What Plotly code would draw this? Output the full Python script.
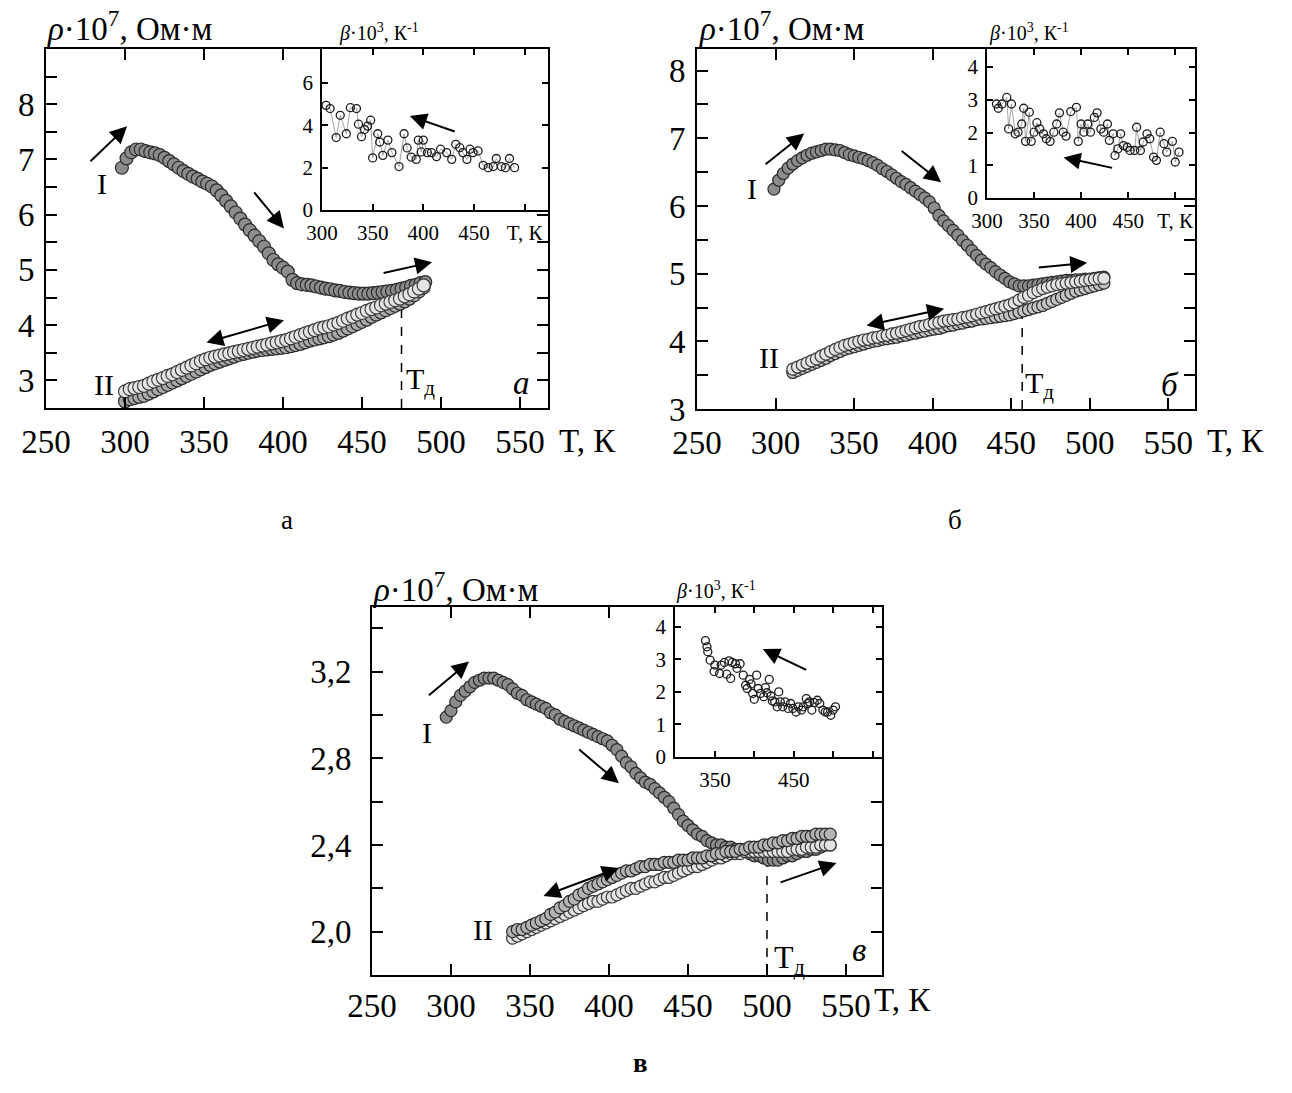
import plotly.graph_objects as go

W, H = 1292, 1093
FONT = "Liberation Serif, Times New Roman, serif"

# ---------------- data: panel а ----------------
T_a_I = list(range(298, 491, 3))
rho_a_I = [6.85, 7.02, 7.13, 7.18, 7.18, 7.15, 7.13, 7.11, 7.08, 7.03,
           6.97, 6.91, 6.85, 6.79, 6.74, 6.69, 6.65, 6.60, 6.56, 6.51,
           6.44, 6.35, 6.25, 6.15, 6.04, 5.93, 5.82, 5.72, 5.62, 5.52,
           5.42, 5.30, 5.18, 5.10, 5.04, 4.97, 4.82, 4.76, 4.74, 4.73,
           4.72, 4.70, 4.68, 4.66, 4.65, 4.63, 4.62, 4.60, 4.59, 4.58,
           4.57, 4.57, 4.57, 4.58, 4.59, 4.60, 4.61, 4.62, 4.64, 4.66,
           4.68, 4.71, 4.73, 4.76, 4.78]
T_a_II = list(range(300, 490, 3))
rho_a_II_up = [2.80, 2.84, 2.86, 2.88, 2.90, 2.94, 2.98, 3.01, 3.04, 3.08,
               3.11, 3.15, 3.19, 3.23, 3.27, 3.31, 3.35, 3.38, 3.41, 3.43,
               3.45, 3.47, 3.49, 3.51, 3.53, 3.55, 3.57, 3.59, 3.61, 3.63,
               3.65, 3.67, 3.69, 3.71, 3.73, 3.76, 3.79, 3.82, 3.85, 3.88,
               3.91, 3.94, 3.96, 3.98, 4.01, 4.04, 4.08, 4.12, 4.15, 4.19,
               4.22, 4.26, 4.29, 4.32, 4.36, 4.39, 4.42, 4.45, 4.48, 4.52,
               4.56, 4.61, 4.66, 4.72]
rho_a_II_dn = [2.62, 2.66, 2.68, 2.70, 2.72, 2.76, 2.80, 2.84, 2.88, 2.92,
               2.96, 3.00, 3.04, 3.08, 3.12, 3.16, 3.20, 3.24, 3.28, 3.31,
               3.34, 3.37, 3.40, 3.43, 3.46, 3.48, 3.50, 3.52, 3.54, 3.55,
               3.56, 3.57, 3.58, 3.59, 3.60, 3.62, 3.64, 3.66, 3.69, 3.72,
               3.74, 3.76, 3.78, 3.80, 3.83, 3.86, 3.90, 3.94, 3.98, 4.02,
               4.06, 4.10, 4.15, 4.19, 4.23, 4.27, 4.31, 4.35, 4.39, 4.43,
               4.48, 4.54, 4.61, 4.68]
T_a_beta = [304, 308, 314, 318, 324, 328, 334, 336, 339, 342, 345, 348, 350, 355, 357,
            360, 365, 369, 376, 381, 384, 388, 393, 395, 398, 400, 404, 408, 413, 417,
            423, 428, 432, 436, 439, 443, 446, 449, 454, 459, 464, 469, 472, 477, 481,
            485, 490]
beta_a = [4.94, 4.79, 3.42, 4.47, 3.60, 4.83, 4.79, 4.05, 3.46, 3.80, 3.96, 4.24, 2.46, 3.60, 3.21,
          2.58, 3.30, 2.71, 2.05, 3.60, 2.93, 2.50, 2.39, 3.30, 2.74, 3.30, 2.71, 2.71, 2.52, 2.87,
          2.71, 2.39, 3.10, 2.94, 2.71, 2.39, 2.87, 2.71, 2.79, 2.11, 2.00, 2.05, 2.43, 2.05, 2.00,
          2.43, 2.00]

# ---------------- data: panel б ----------------
T_b_I = list(range(299, 510, 3))
rho_b_I = [6.25, 6.38, 6.48, 6.56, 6.62, 6.67, 6.71, 6.75, 6.78, 6.80,
           6.82, 6.84, 6.84, 6.83, 6.82, 6.79, 6.76, 6.74, 6.72, 6.70,
           6.67, 6.64, 6.60, 6.55, 6.51, 6.46, 6.41, 6.36, 6.32, 6.27,
           6.22, 6.17, 6.12, 6.06, 5.97, 5.86, 5.78, 5.71, 5.64, 5.57,
           5.49, 5.42, 5.34, 5.27, 5.20, 5.14, 5.09, 5.03, 4.98, 4.93,
           4.88, 4.85, 4.82, 4.82, 4.82, 4.83, 4.84, 4.85, 4.86, 4.87,
           4.88, 4.89, 4.90, 4.90, 4.91, 4.91, 4.92, 4.92, 4.93, 4.94,
           4.95]
T_b_II = list(range(311, 510, 3))
rho_b_II_up = [3.59, 3.62, 3.65, 3.68, 3.71, 3.74, 3.78, 3.81, 3.85, 3.88,
               3.91, 3.94, 3.96, 3.98, 4.00, 4.02, 4.03, 4.05, 4.06, 4.08,
               4.09, 4.11, 4.12, 4.14, 4.16, 4.18, 4.20, 4.22, 4.23, 4.25,
               4.27, 4.28, 4.30, 4.31, 4.32, 4.33, 4.35, 4.36, 4.38, 4.40,
               4.42, 4.44, 4.46, 4.48, 4.50, 4.52, 4.54, 4.57, 4.61, 4.65,
               4.68, 4.72, 4.75, 4.78, 4.80, 4.82, 4.84, 4.85, 4.86, 4.87,
               4.88, 4.89, 4.90, 4.91, 4.92, 4.93, 4.93]
rho_b_II_dn = [3.54, 3.57, 3.60, 3.63, 3.66, 3.69, 3.72, 3.75, 3.79, 3.82,
               3.85, 3.88, 3.90, 3.92, 3.94, 3.96, 3.98, 4.00, 4.01, 4.03,
               4.04, 4.05, 4.06, 4.08, 4.09, 4.11, 4.12, 4.14, 4.15, 4.17,
               4.18, 4.19, 4.21, 4.23, 4.24, 4.26, 4.27, 4.29, 4.30, 4.32,
               4.33, 4.34, 4.35, 4.36, 4.37, 4.38, 4.39, 4.41, 4.43, 4.45,
               4.47, 4.49, 4.51, 4.53, 4.56, 4.59, 4.62, 4.65, 4.68, 4.71,
               4.74, 4.76, 4.78, 4.80, 4.82, 4.84, 4.86]
T_b_beta = [310, 312, 316, 321, 323, 326, 330, 333, 337, 339, 341, 345, 347, 350, 353,
            356, 360, 363, 367, 371, 374, 377, 381, 384, 389, 395, 397, 400, 403, 407,
            410, 414, 417, 421, 424, 428, 430, 434, 436, 439, 442, 445, 449, 452, 457,
            459, 463, 466, 470, 473, 477, 480, 484, 488, 491, 497, 500, 504]
beta_b = [2.87, 2.74, 2.87, 3.07, 2.11, 2.87, 1.96, 2.01, 2.26, 2.74, 1.73, 2.62, 1.73, 2.01, 2.30,
          2.11, 1.96, 1.81, 1.73, 2.01, 2.26, 2.60, 2.01, 1.89, 2.64, 2.77, 1.73, 2.26, 2.01, 2.26,
          2.01, 2.46, 2.60, 2.11, 2.01, 2.26, 1.76, 1.96, 1.30, 1.50, 1.96, 1.60, 1.55, 1.45, 1.45,
          2.16, 1.45, 1.71, 1.96, 1.81, 1.25, 1.15, 2.01, 1.66, 1.40, 1.73, 1.10, 1.40]

# ---------------- data: panel в ----------------
T_c_I = list(range(297, 541, 3))
rho_c_I = [2.99, 3.02, 3.06, 3.09, 3.11, 3.13, 3.15, 3.16, 3.17, 3.17,
           3.17, 3.16, 3.15, 3.14, 3.12, 3.10, 3.09, 3.07, 3.06, 3.05,
           3.04, 3.03, 3.01, 3.00, 2.98, 2.97, 2.96, 2.95, 2.94, 2.93,
           2.92, 2.91, 2.90, 2.89, 2.88, 2.86, 2.84, 2.81, 2.78, 2.76,
           2.73, 2.71, 2.69, 2.68, 2.66, 2.64, 2.62, 2.60, 2.57, 2.54,
           2.51, 2.49, 2.47, 2.45, 2.44, 2.42, 2.41, 2.40, 2.40, 2.39,
           2.39, 2.38, 2.38, 2.37, 2.36, 2.35, 2.35, 2.34, 2.33, 2.33,
           2.33, 2.34, 2.35, 2.35, 2.36, 2.37, 2.37, 2.38, 2.38, 2.39,
           2.40, 2.40]
T_c_II = list(range(339, 541, 3))
rho_c_II_up = [2.00, 2.01, 2.01, 2.02, 2.03, 2.04, 2.05, 2.06, 2.08, 2.09,
               2.11, 2.12, 2.14, 2.15, 2.17, 2.18, 2.20, 2.21, 2.22, 2.23,
               2.24, 2.25, 2.26, 2.27, 2.28, 2.28, 2.29, 2.30, 2.30, 2.31,
               2.31, 2.31, 2.32, 2.32, 2.32, 2.33, 2.33, 2.33, 2.34, 2.34,
               2.34, 2.35, 2.35, 2.36, 2.36, 2.37, 2.37, 2.37, 2.38, 2.38,
               2.39, 2.39, 2.39, 2.40, 2.40, 2.41, 2.41, 2.42, 2.42, 2.43,
               2.43, 2.44, 2.44, 2.44, 2.45, 2.45, 2.45, 2.45]
rho_c_II_dn = [1.97, 1.98, 1.99, 2.00, 2.01, 2.02, 2.03, 2.04, 2.05, 2.06,
               2.07, 2.08, 2.09, 2.10, 2.11, 2.12, 2.13, 2.14, 2.14, 2.15,
               2.16, 2.16, 2.17, 2.18, 2.19, 2.20, 2.20, 2.21, 2.22, 2.23,
               2.23, 2.24, 2.25, 2.25, 2.26, 2.27, 2.28, 2.29, 2.30, 2.30,
               2.31, 2.32, 2.33, 2.34, 2.34, 2.35, 2.36, 2.36, 2.36, 2.37,
               2.37, 2.37, 2.37, 2.37, 2.37, 2.37, 2.37, 2.37, 2.37, 2.38,
               2.38, 2.38, 2.39, 2.39, 2.39, 2.40, 2.40, 2.40]
T_c_beta = [338, 340, 341, 344, 349, 350, 356, 358, 362, 365, 368, 370, 372, 376, 378,
            382, 386, 389, 391, 394, 396, 398, 400, 403, 405, 408, 412, 414, 416, 419,
            421, 423, 426, 429, 431, 433, 436, 439, 443, 446, 449, 453, 456, 460, 462,
            466, 468, 470, 473, 476, 480, 483, 487, 490, 493, 497, 500, 503]
beta_c = [3.57, 3.38, 3.23, 2.97, 2.62, 2.82, 2.56, 2.82, 2.90, 2.54, 2.95, 2.41, 2.90, 2.86, 2.72,
          2.86, 2.51, 2.20, 2.10, 2.38, 2.24, 1.95, 1.77, 2.51, 2.10, 1.95, 1.85, 2.13, 1.97, 2.38,
          1.87, 1.72, 1.69, 1.54, 2.00, 1.69, 1.54, 1.69, 1.49, 1.64, 1.49, 1.38, 1.54, 1.44, 1.54,
          1.79, 1.64, 1.69, 1.44, 1.67, 1.74, 1.64, 1.44, 1.38, 1.38, 1.28, 1.44, 1.54]

T_D = {"a": 475, "b": 457, "c": 500}

fig = go.Figure()


def add_series(xa, ya, T, vals, fill, size, edge="#2a2a2a"):
    n = min(len(T), len(vals))
    fig.add_trace(go.Scatter(
        x=T[:n], y=vals[:n], mode="markers", xaxis=xa, yaxis=ya,
        marker=dict(size=size, color=fill, line=dict(color=edge, width=1.2)),
        showlegend=False, hoverinfo="skip"))


def add_inset(xa, ya, T, vals, lines):
    n = min(len(T), len(vals))
    fig.add_trace(go.Scatter(
        x=T[:n], y=vals[:n], mode="lines+markers" if lines else "markers",
        xaxis=xa, yaxis=ya,
        line=dict(color="#8c8c8c", width=0.8),
        marker=dict(size=8, symbol="circle-open", color="#1e1e1e", line=dict(width=1.3)),
        showlegend=False, hoverinfo="skip"))


# panel а
add_series("x", "y", T_a_I, rho_a_I, "#8c8c8c", 13)
add_series("x", "y", T_a_II, rho_a_II_dn, "#a9a9a9", 13)
add_series("x", "y", T_a_II, rho_a_II_up, "#e4e4e4", 13, "#3a3a3a")
add_inset("x2", "y2", T_a_beta, beta_a, True)
# panel б
add_series("x3", "y3", T_b_I, rho_b_I, "#8c8c8c", 12)
add_series("x3", "y3", T_b_II, rho_b_II_dn, "#c4c4c4", 12)
add_series("x3", "y3", T_b_II, rho_b_II_up, "#e2e2e2", 12, "#3a3a3a")
add_inset("x4", "y4", T_b_beta, beta_b, True)
# panel в
add_series("x5", "y5", T_c_I, rho_c_I, "#8c8c8c", 12)
add_series("x5", "y5", T_c_II, rho_c_II_dn, "#e2e2e2", 12, "#3a3a3a")
add_series("x5", "y5", T_c_II, rho_c_II_up, "#b4b4b4", 12)
add_inset("x6", "y6", T_c_beta, beta_c, False)


def dom_x(a, b):
    return [a / W, b / W]


def dom_y(top, bottom):
    return [1 - bottom / H, 1 - top / H]


def ax(lw, tl, fs, minor_vals=None, **kw):
    d = dict(showline=True, linecolor="black", linewidth=lw, mirror="allticks",
             ticks="inside", ticklen=tl, tickwidth=lw, tickcolor="black",
             showgrid=False, zeroline=False, automargin=False,
             tickfont=dict(family=FONT, size=fs, color="black"))
    if minor_vals is not None:
        d["minor"] = dict(tickvals=minor_vals, ticks="inside", ticklen=tl,
                          tickwidth=lw, tickcolor="black", showgrid=False)
    d.update(kw)
    return d


main_x_ticks = [250, 300, 350, 400, 450, 500, 550]

MAIN_FS = 33
INS_FS = 21

fig.update_layout(
    width=W, height=H, margin=dict(l=0, r=0, t=0, b=0, autoexpand=False),
    paper_bgcolor="white", plot_bgcolor="white",
    font=dict(family=FONT, color="black"),
    # panel а
    xaxis=ax(2, 11, MAIN_FS, domain=dom_x(46, 548), range=[250, 567.7], anchor="y",
             tickvals=main_x_ticks, ticklabelstandoff=3),
    yaxis=ax(2, 11, MAIN_FS, minor_vals=[2.5, 3.5, 4.5, 5.5, 6.5, 7.5, 8.5],
             domain=dom_y(49, 408), range=[2.5, 9.0], anchor="x",
             tickvals=[3, 4, 5, 6, 7, 8], ticklabelstandoff=3),
    xaxis2=ax(1.5, 6, INS_FS, domain=dom_x(322, 548), range=[300, 523], anchor="y2",
              tickvals=[300, 350, 400, 450, 500],
              ticktext=["300", "350", "400", "450", "T, К"], ticklabelstandoff=3),
    yaxis2=ax(1.5, 6, INS_FS, domain=dom_y(49, 210), range=[0, 7.6], anchor="x2",
              tickvals=[0, 2, 4, 6], ticklabelstandoff=3),
    # panel б
    xaxis3=ax(2, 11, MAIN_FS, domain=dom_x(697, 1195), range=[250, 567], anchor="y3",
              tickvals=main_x_ticks, ticklabelstandoff=3),
    yaxis3=ax(2, 11, MAIN_FS, minor_vals=[3.5, 4.5, 5.5, 6.5, 7.5],
              domain=dom_y(49, 409), range=[3.0, 8.32], anchor="x3",
              tickvals=[3, 4, 5, 6, 7, 8], ticklabelstandoff=3),
    xaxis4=ax(1.5, 6, INS_FS, domain=dom_x(987, 1195), range=[300, 521], anchor="y4",
              tickvals=[300, 350, 400, 450, 500],
              ticktext=["300", "350", "400", "450", "T, К"], ticklabelstandoff=3),
    yaxis4=ax(1.5, 6, INS_FS, domain=dom_y(49, 198), range=[0, 4.55], anchor="x4",
              tickvals=[0, 1, 2, 3, 4], ticklabelstandoff=3),
    # panel в
    xaxis5=ax(2, 11, MAIN_FS, domain=dom_x(372, 882), range=[250, 572.8], anchor="y5",
              tickvals=main_x_ticks, ticklabelstandoff=0),
    yaxis5=ax(2, 11, MAIN_FS, minor_vals=[2.2, 2.6, 3.0, 3.4],
              domain=dom_y(607, 975), range=[1.8, 3.498], anchor="x5",
              tickvals=[2.0, 2.4, 2.8, 3.2], ticktext=["2,0", "2,4", "2,8", "3,2"],
              ticklabelstandoff=12),
    xaxis6=ax(1.5, 6, INS_FS, minor_vals=[400, 500, 550],
              domain=dom_x(675, 882), range=[299.4, 562], anchor="y6",
              tickvals=[350, 450], ticklabelstandoff=3),
    yaxis6=ax(1.5, 6, INS_FS, domain=dom_y(607, 757), range=[0, 4.6], anchor="x6",
              tickvals=[0, 1, 2, 3, 4], ticklabelstandoff=3),
)

# dashed T_д lines
for xr, yr, t, y0, y1 in [("x", "y", T_D["a"], 2.5, 4.5),
                          ("x3", "y3", T_D["b"], 3.0, 4.45),
                          ("x5", "y5", T_D["c"], 1.8, 2.33)]:
    fig.add_shape(type="line", xref=xr, yref=yr, x0=t, x1=t, y0=y0, y1=y1,
                  line=dict(color="black", width=1.5, dash="dash"), layer="below")

ann = []


def txt(x, y, s, size, xref="paper", yref="paper", xanchor="center", yanchor="middle"):
    ann.append(dict(x=x, y=y, xref=xref, yref=yref, text=s, showarrow=False,
                    xanchor=xanchor, yanchor=yanchor,
                    font=dict(family=FONT, size=size, color="black")))


def arrow(xr, yr, tail, head, both=False):
    ann.append(dict(x=head[0], y=head[1], ax=tail[0], ay=tail[1], xref=xr, yref=yr,
                    axref=xr, ayref=yr, text="", showarrow=True, arrowhead=2,
                    arrowsize=1.7, arrowwidth=2, arrowcolor="black",
                    arrowside="end+start" if both else "end", standoff=0, startstandoff=0))


RHO = "<i>ρ</i>·10<sup>7</sup>, Ом·м"
BETA = "<i>β</i>·10<sup>3</sup>, К<sup>-1</sup>"
TD = "T<sub>д</sub>"

# titles
txt(45 / W, 1 - 26 / H, RHO, 33, xanchor="left")
txt(697 / W, 1 - 26 / H, RHO, 33, xanchor="left")
txt(371 / W, 1 - 587 / H, RHO, 33, xanchor="left")
txt(337 / W, 1 - 32 / H, BETA, 20, xanchor="left")
txt(987 / W, 1 - 32 / H, BETA, 20, xanchor="left")
txt(674 / W, 1 - 590 / H, BETA, 20, xanchor="left")
# x-axis titles of main plots
txt(557 / W, 1 - 441 / H, "T, К", MAIN_FS, xanchor="left")
txt(1205 / W, 1 - 441 / H, "T, К", MAIN_FS, xanchor="left")
txt(872 / W, 1 - 1000 / H, "T, К", MAIN_FS, xanchor="left")
# inset в x title
txt(533, -0.55, "T, К", INS_FS, xref="x6", yref="y6")
# curve labels
txt(285.4, 6.56, "I", 30, "x", "y")
txt(286.7, 2.92, "II", 30, "x", "y")
txt(476.5, 2.99, TD, 30, "x", "y", xanchor="left")
txt(551, 2.95, "<i>а</i>", 33, "x", "y")
txt(285, 6.26, "I", 30, "x3", "y3")
txt(295.9, 3.76, "II", 30, "x3", "y3")
txt(457.5, 3.36, TD, 30, "x3", "y3", xanchor="left")
txt(551, 3.35, "<i>б</i>", 33, "x3", "y3")
txt(284.8, 2.917, "I", 30, "x5", "y5")
txt(320.3, 2.008, "II", 30, "x5", "y5")
txt(503, 1.87, TD, 32, "x5", "y5", xanchor="left")
txt(558, 1.915, "<i>в</i>", 33, "x5", "y5")
# captions
txt(287 / W, 1 - 520 / H, "а", 27)
txt(955 / W, 1 - 520 / H, "б", 27)
txt(640 / W, 1 - 1063 / H, "<b>в</b>", 27)

# arrows panel а
arrow("x", "y", (277.2, 6.94), (301.3, 7.60))
arrow("x", "y", (381.0, 6.43), (400.6, 5.75))
arrow("x", "y", (462.7, 4.94), (494.3, 5.14))
arrow("x", "y", (350.6, 3.68), (400.6, 4.09), both=True)
arrow("x2", "y2", (432.4, 3.68), (386.7, 4.44))
# arrows panel б
arrow("x3", "y3", (292.7, 6.60), (318.2, 7.07))
arrow("x3", "y3", (379.3, 6.83), (405.4, 6.35))
arrow("x3", "y3", (466.6, 5.09), (498.4, 5.16))
arrow("x3", "y3", (357.0, 4.23), (407.3, 4.48), both=True)
arrow("x4", "y4", (434.5, 0.91), (381.4, 1.24))
# arrows panel в
arrow("x5", "y5", (285.1, 3.085), (311.4, 3.246))
arrow("x5", "y5", (380.2, 2.846), (406.3, 2.685))
arrow("x5", "y5", (507.6, 2.225), (544.0, 2.317))
arrow("x5", "y5", (357.6, 2.162), (406.3, 2.294), both=True)
arrow("x6", "y6", (467.7, 2.65), (410.8, 3.31))

fig.update_layout(annotations=ann)
fig.write_html("out.html")
